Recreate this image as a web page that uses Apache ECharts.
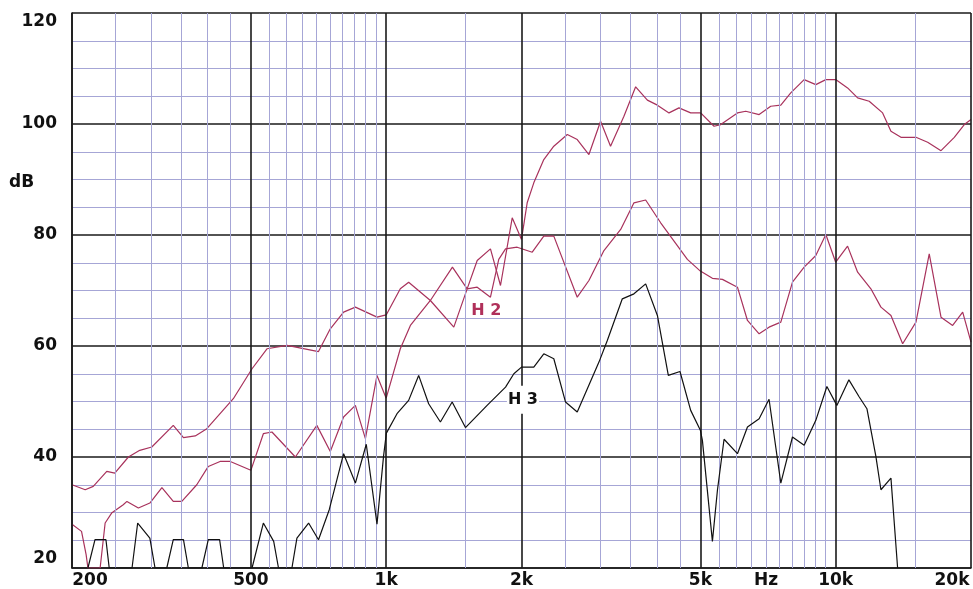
<!DOCTYPE html>
<html><head><meta charset="utf-8">
<script src="https://cdn.jsdelivr.net/npm/echarts@6/dist/echarts.min.js"></script>
<style>html,body{margin:0;padding:0;background:#fff}#c{width:973px;height:589px}</style>
</head><body><div id="c"></div>
<script>
// ---- data (frequency Hz, level dB) ----
const fundamental = [[200,35.0],[214,34.1],[223,34.7],[239,37.4],[249,37.1],[267,40.0],[283,41.2],[301,41.8],[336,45.7],[354,43.5],
[376,43.8],[399,45.1],[457,50.5],[503,55.9],[543,59.5],[602,60.1],[707,59.0],[751,63.1],[804,66.1],[854,67.0],
[954,65.2],[1000,65.6],[1075,70.3],[1122,71.5],[1254,68.2],[1404,74.2],[1514,70.3],[1594,75.4],[1706,77.5],[1796,70.9],
[1907,83.1],[2000,79.2],[2059,85.8],[2130,89.4],[2242,93.6],[2360,96.0],[2529,98.1],[2661,97.2],[2825,94.5],[2999,100.5],
[3156,96.0],[3380,101.4],[3589,106.7],[3811,104.3],[4012,103.4],[4258,102.0],[4481,102.9],[4758,102.0],[5000,102.0],[5052,101.7],
[5362,99.6],[5550,99.9],[6046,102.0],[6309,102.3],[6756,101.7],[7170,103.2],[7550,103.4],[7944,105.6],[8508,108.0],[9032,107.1],
[9508,108.0],[10000,108.0],[10628,106.5],[11190,104.7],[11872,104.1],[12718,102.0],[13272,98.7],[13970,97.6],[15086,97.6],[16018,96.7],
[17152,95.2],[18358,97.6],[19326,99.9],[20000,100.8]];

const harmonic2 = [[200,27.9],[210,26.6],[215,22.4],[217,20],[231,20],[237,28.1],[245,29.9],[260,31.4],[265,32.0],[281,30.8],
[298,31.7],[317,34.5],[336,32.0],[351,32.0],[379,35.0],[402,38.3],[427,39.2],[450,39.2],[500,37.6],[533,44.2],
[557,44.5],[628,40.0],[701,45.7],[751,41.0],[804,47.2],[854,49.3],[899,43.3],[954,54.7],[1000,50.6],[1075,59.5],
[1132,63.7],[1254,68.2],[1414,63.4],[1514,70.3],[1594,70.6],[1706,68.8],[1780,75.6],[1843,77.5],[1956,77.8],[2113,76.9],
[2242,79.8],[2360,79.8],[2661,68.8],[2825,71.8],[3051,77.2],[3324,81.0],[3558,85.8],[3778,86.3],[4080,82.2],[4369,78.9],
[4678,75.6],[5000,73.5],[5318,72.2],[5598,72.0],[6046,70.6],[6364,64.6],[6756,62.2],[7108,63.4],[7550,64.3],[8014,71.5],
[8508,74.2],[9032,76.3],[9508,80.1],[10000,75.1],[10628,78.0],[11190,73.3],[11976,70.3],[12608,67.0],[13272,65.5],[14092,60.4],
[15086,64.3],[16148,76.6],[17152,65.2],[18206,63.7],[19166,66.1],[20000,60.7]];

const harmonic3 = [[217,20],[225,25.1],[238,25.1],[242,20],[272,20],[280,28.1],[298,25.4],[306,20],[325,20],[336,25.1],
[354,25.1],[363,20],[389,20],[402,25.1],[426,25.1],[435,20],[503,20],[533,28.1],[562,24.8],[576,20],
[617,20],[633,25.4],[672,28.1],[707,25.1],[747,30.5],[804,40.6],[854,35.3],[903,42.3],[954,27.9],[987,40.3],
[1001,44.3],[1057,47.8],[1122,50.2],[1181,54.7],[1243,49.6],[1320,46.3],[1402,49.9],[1501,45.3],[1677,49.3],[1843,52.6],
[1923,55.0],[2000,56.2],[2130,56.2],[2242,58.6],[2360,57.7],[2506,49.9],[2661,48.1],[2974,57.1],[3104,61.0],[3352,68.5],
[3558,69.4],[3778,71.2],[4012,65.5],[4243,54.7],[4504,55.4],[4758,48.4],[5000,44.8],[5052,43.0],[5318,24.8],[5458,34.1],
[5645,43.2],[6046,40.6],[6364,45.4],[6756,46.9],[7108,50.4],[7550,35.3],[8014,43.6],[8508,42.1],[9032,46.6],[9559,52.7],
[10060,49.3],[10700,53.9],[11265,50.9],[11735,48.7],[12286,40.1],[12608,34.1],[13272,36.2],[13733,20]];

const xTickValues = [200, 500, 1000, 2000, 5000, 7000, 10000, 20000];
const xTickLabels = ['200', '500', '1k', '2k', '5k', 'Hz', '10k', '20k'];
const majorFreqs = [200, 500, 1000, 2000, 5000, 10000, 20000];
const minorFreqs = [250,300,350,400,450,550,600,650,700,750,800,850,900,950,1500,
  2500,3000,3500,4000,4500,5500,6000,6500,7000,7500,8000,8500,9000,9500,15000];
const h2LabelAt = [1671, 66.4];
const h3LabelAt = [2015, 50.3];

// ---- chart ----
const FONT = 'DejaVu Sans';
const TXT = {fontFamily: FONT, fontWeight: 'bold', fontSize: 17, color: '#111'};
const MAJOR = '#1a1a1a', MINOR = '#a6a6d6', PINK = '#a8325c';

function gridLines(freqs, color, width, z) {
  return {type: 'line', data: [], z: z, silent: true, animation: false,
    markLine: {silent: true, animation: false, symbol: ['none', 'none'], label: {show: false},
      emphasis: {disabled: true}, lineStyle: {color: color, width: width, type: 'solid'},
      data: freqs.map(f => ({xAxis: f}))}};
}
function tickLabel(v) {
  const i = xTickValues.findIndex(t => Math.abs(t - v) / t < 1e-6);
  if (i < 0) return '';
  if (i === 0) return '{l|' + xTickLabels[i] + '}';
  if (i === xTickValues.length - 1) return '{r|' + xTickLabels[i] + '}';
  return xTickLabels[i];
}

const chart = echarts.init(document.getElementById('c'), null, {renderer: 'canvas'});
chart.setOption({
  animation: false,
  backgroundColor: '#ffffff',
  grid: {left: 72, right: 2, top: 13, bottom: 19},
  graphic: [{type: 'text', left: 9, top: 174, style: Object.assign({text: 'dB', fill: '#111'}, {font: 'bold 17px "DejaVu Sans"'})}],
  xAxis: {
    type: 'log', logBase: 10, min: 200, max: 20000,
    axisLine: {show: true, lineStyle: {color: MAJOR, width: 1.6}},
    axisTick: {show: false}, splitLine: {show: false}, minorSplitLine: {show: false},
    axisLabel: Object.assign({}, TXT, {customValues: xTickValues, margin: 4, formatter: tickLabel,
      rich: {l: Object.assign({}, TXT, {padding: [0, 0, 0, 36]}), r: Object.assign({}, TXT, {padding: [0, 38, 0, 0]})}})
  },
  yAxis: {
    type: 'value', min: 20, max: 120, interval: 20,
    axisLine: {show: true, lineStyle: {color: MAJOR, width: 1.6}},
    axisTick: {show: false},
    splitLine: {show: true, lineStyle: {color: MAJOR, width: 1.6}},
    minorTick: {show: false, splitNumber: 4},
    minorSplitLine: {show: true, lineStyle: {color: MINOR, width: 1}},
    axisLabel: Object.assign({}, TXT, {margin: 15,
      formatter: v => v === 120 ? '{t|120}' : (v === 20 ? '{b|20}' : String(v)),
      rich: {t: Object.assign({}, TXT, {padding: [18, 0, 0, 0]}), b: Object.assign({}, TXT, {padding: [0, 0, 18, 0]})}})
  },
  series: [
    gridLines(minorFreqs, MINOR, 1, -1),
    gridLines(majorFreqs, MAJOR, 1.6, 1),
    {type: 'line', name: 'Fundamental', data: fundamental, symbol: 'none', z: 3,
      lineStyle: {color: PINK, width: 1.2}},
    {type: 'line', name: 'H2', data: harmonic2, symbol: 'none', z: 4,
      lineStyle: {color: PINK, width: 1.2},
      markPoint: {symbol: 'circle', symbolSize: 1, itemStyle: {color: 'rgba(0,0,0,0)'}, silent: true,
        label: {show: true, position: 'inside', formatter: 'H 2', fontFamily: FONT, fontWeight: 'bold', fontSize: 16, color: '#b0305a'},
        data: [{coord: h2LabelAt}]}},
    {type: 'line', name: 'H3', data: harmonic3, symbol: 'none', z: 5,
      lineStyle: {color: '#111', width: 1.2},
      markPoint: {symbol: 'circle', symbolSize: 1, itemStyle: {color: 'rgba(0,0,0,0)'}, silent: true,
        label: {show: true, position: 'inside', formatter: 'H 3', fontFamily: FONT, fontWeight: 'bold', fontSize: 16, color: '#111',
          backgroundColor: '#fff', padding: [6, 1]},
        data: [{coord: h3LabelAt}]}}
  ]
});
</script></body></html>
